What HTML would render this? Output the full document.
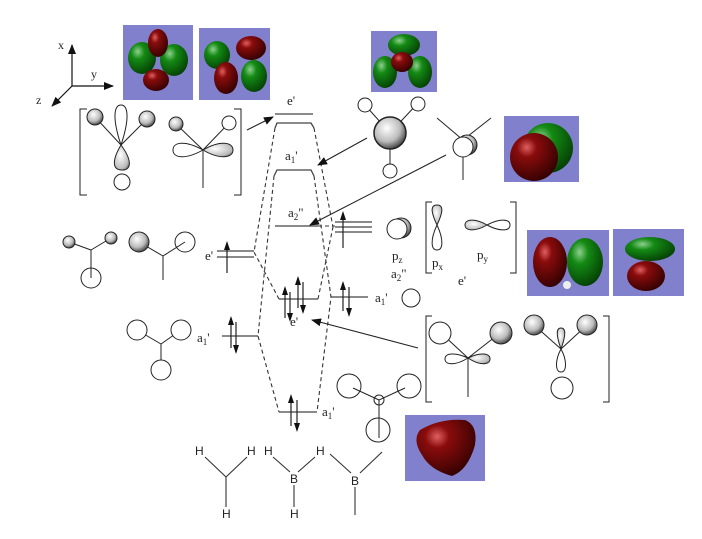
<!DOCTYPE html>
<html><head><meta charset="utf-8"><style>
html,body{margin:0;padding:0;background:#fff;}
svg{display:block;}
text{font-family:"Liberation Serif",serif;fill:#222;}
.s{font-family:"Liberation Sans",sans-serif;font-size:12px;}
</style></head><body>
<svg width="702" height="539" viewBox="0 0 702 539" xmlns="http://www.w3.org/2000/svg">
<defs>
<radialGradient id="sp" cx="0.4" cy="0.35" r="0.7"><stop offset="0" stop-color="#fff"/><stop offset="0.6" stop-color="#bbb"/><stop offset="1" stop-color="#333"/></radialGradient>
<radialGradient id="lb" cx="0.4" cy="0.4" r="0.8"><stop offset="0" stop-color="#fff"/><stop offset="0.7" stop-color="#bbb"/><stop offset="1" stop-color="#444"/></radialGradient>
<radialGradient id="red" cx="0.35" cy="0.3" r="0.8"><stop offset="0" stop-color="#e06060"/><stop offset="0.25" stop-color="#8a0c0c"/><stop offset="1" stop-color="#2a0000"/></radialGradient>
<radialGradient id="grn" cx="0.35" cy="0.3" r="0.8"><stop offset="0" stop-color="#8ed08e"/><stop offset="0.3" stop-color="#148a14"/><stop offset="1" stop-color="#033803"/></radialGradient>
<marker id="ah" markerWidth="10" markerHeight="8" refX="9" refY="4" orient="auto" markerUnits="userSpaceOnUse"><path d="M0,0 L10,4 L0,8 z" fill="#111"/></marker>
</defs>

<!-- axes -->
<g stroke="#111" stroke-width="1.2" fill="none">
<line x1="72" y1="86" x2="72" y2="45" marker-end="url(#ah)"/>
<line x1="72" y1="86" x2="113" y2="86" marker-end="url(#ah)"/>
<line x1="72" y1="86" x2="52" y2="106" marker-end="url(#ah)"/>
</g>
<text x="58" y="49" font-size="12">x</text>
<text x="91" y="78" font-size="12">y</text>
<text x="36" y="104" font-size="12">z</text>

<!-- orbital images -->
<rect x="123" y="25" width="70" height="75" fill="#8080cc"/>
<ellipse cx="142" cy="58" rx="14" ry="16" fill="url(#grn)"/><ellipse cx="174" cy="60" rx="14" ry="16" fill="url(#grn)"/>
<ellipse cx="158" cy="43" rx="10" ry="14" fill="url(#red)"/><ellipse cx="156" cy="80" rx="13" ry="11" fill="url(#red)"/>
<rect x="199" y="28" width="71" height="72" fill="#8080cc"/>
<ellipse cx="217" cy="55" rx="13" ry="14" fill="url(#grn)"/><ellipse cx="251" cy="48" rx="15" ry="12" fill="url(#red)"/>
<ellipse cx="226" cy="78" rx="12" ry="16" fill="url(#red)"/><ellipse cx="254" cy="76" rx="13" ry="16" fill="url(#grn)"/>
<rect x="371" y="31" width="66" height="61" fill="#8080cc"/>
<ellipse cx="404" cy="45" rx="16" ry="11" fill="url(#grn)"/><ellipse cx="385" cy="72" rx="12" ry="16" fill="url(#grn)"/>
<ellipse cx="420" cy="72" rx="12" ry="16" fill="url(#grn)"/><ellipse cx="402" cy="62" rx="11" ry="10" fill="url(#red)"/>
<rect x="504" y="116" width="75" height="66" fill="#8080cc"/>
<circle cx="548" cy="148" r="25" fill="url(#grn)"/><circle cx="534" cy="157" r="24" fill="url(#red)"/>
<rect x="527" y="230" width="82" height="66" fill="#8080cc"/>
<ellipse cx="550" cy="262" rx="17" ry="25" fill="url(#red)"/><ellipse cx="585" cy="262" rx="18" ry="24" fill="url(#grn)"/><circle cx="567" cy="285" r="4" fill="#eee"/>
<rect x="613" y="229" width="71" height="67" fill="#8080cc"/>
<ellipse cx="650" cy="249" rx="25" ry="12" fill="url(#grn)"/><ellipse cx="646" cy="276" rx="19" ry="15" fill="url(#red)"/>
<rect x="405" y="415" width="80" height="66" fill="#8080cc"/>
<path d="M420,430 Q440,418 465,420 Q478,425 475,445 Q468,470 452,476 Q430,470 422,455 Q412,440 420,430 z" fill="url(#red)"/>

<!-- MO levels -->
<g stroke="#444" stroke-width="1.3" fill="none">
<line x1="275" y1="114" x2="313" y2="114"/>
<path d="M275,128 L277,123 L311,123 L314,128"/>
<path d="M274,176 L277,170 L311,170 L314,176"/>
<line x1="275" y1="226" x2="318" y2="226"/>
<line x1="279" y1="299" x2="318" y2="299"/>
<line x1="279" y1="412" x2="317" y2="412"/>
<line x1="217" y1="251" x2="254" y2="251"/><line x1="217" y1="257" x2="254" y2="257"/>
<line x1="222" y1="336" x2="258" y2="336"/>
<line x1="335" y1="222" x2="372" y2="222"/><line x1="335" y1="227" x2="372" y2="227"/><line x1="335" y1="232" x2="372" y2="232"/>
<line x1="331" y1="297" x2="368" y2="297"/>
</g>
<!-- dashed -->
<g stroke="#333" stroke-width="1.1" stroke-dasharray="4,3" fill="none">
<path d="M275,128 L254,252 L279,299"/>
<path d="M274,176 L258,336 L279,412"/>
<path d="M314,128 L333,227"/>
<path d="M318,299 L333,227"/>
<path d="M314,176 L331,297 L317,412"/>
<line x1="318" y1="226" x2="335" y2="226"/>
</g>
<!-- electrons -->
<g stroke="#222" stroke-width="1.2">
<line x1="227" y1="243" x2="227" y2="273"/>
<line x1="231" y1="318" x2="231" y2="348"/><line x1="236" y1="322" x2="236" y2="352"/>
<line x1="343" y1="213" x2="343" y2="248"/>
<line x1="343" y1="283" x2="343" y2="311"/><line x1="349" y1="287" x2="349" y2="315"/>
<line x1="285" y1="288" x2="285" y2="318"/><line x1="290" y1="292" x2="290" y2="320"/>
<line x1="298" y1="278" x2="298" y2="308"/><line x1="303" y1="282" x2="303" y2="312"/>
<line x1="291" y1="396" x2="291" y2="426"/><line x1="297" y1="400" x2="297" y2="430"/>
</g>
<g fill="#111">
<path d="M227,241 l-3,9 l6,0z"/>
<path d="M231,316 l-3,9 l6,0z"/><path d="M236,354 l-3,-9 l6,0z"/>
<path d="M343,211 l-3,9 l6,0z"/>
<path d="M343,281 l-3,9 l6,0z"/><path d="M349,317 l-3,-9 l6,0z"/>
<path d="M285,286 l-3,9 l6,0z"/><path d="M290,322 l-3,-9 l6,0z"/>
<path d="M298,276 l-3,9 l6,0z"/><path d="M303,314 l-3,-9 l6,0z"/>
<path d="M291,394 l-3,9 l6,0z"/><path d="M297,432 l-3,-9 l6,0z"/>
</g>
<!-- labels -->
<g font-size="13">
<text x="287" y="105">e'</text>
<text x="285" y="160">a<tspan font-size="9" dy="3">1</tspan><tspan dy="-3">'</tspan></text>
<text x="288" y="217">a<tspan font-size="9" dy="3">2</tspan><tspan dy="-3">"</tspan></text>
<text x="290" y="326">e'</text>
<text x="322" y="416">a<tspan font-size="9" dy="3">1</tspan><tspan dy="-3">'</tspan></text>
<text x="205" y="260">e'</text>
<text x="197" y="342">a<tspan font-size="9" dy="3">1</tspan><tspan dy="-3">'</tspan></text>
<text x="375" y="302">a<tspan font-size="9" dy="3">1</tspan><tspan dy="-3">'</tspan></text>
<text x="392" y="260">p<tspan font-size="9" dy="3">z</tspan></text>
<text x="391" y="278">a<tspan font-size="9" dy="3">2</tspan><tspan dy="-3">"</tspan></text>
<text x="432" y="267">p<tspan font-size="9" dy="3">x</tspan></text>
<text x="477" y="259">p<tspan font-size="9" dy="3">y</tspan></text>
<text x="458" y="285">e'</text>
</g>
<!-- solid arrows -->
<g stroke="#222" stroke-width="1.1" fill="none">
<line x1="247" y1="130" x2="273" y2="117" marker-end="url(#ah)"/>
<line x1="367" y1="138" x2="318" y2="165" marker-end="url(#ah)"/>
<line x1="446" y1="155" x2="310" y2="225" marker-end="url(#ah)"/>
<line x1="418" y1="348" x2="312" y2="320" marker-end="url(#ah)"/>
</g>

<!-- fragments -->
<g stroke="#222" stroke-width="1" fill="none">
<!-- top-left bracket -->
<path d="M87,109 L80,109 L80,195 L87,195"/><path d="M234,109 L241,109 L241,195 L234,195"/>
<line x1="95" y1="117" x2="121" y2="145"/><line x1="147" y1="119" x2="121" y2="145"/>
<path d="M121,145 C112,118 114,105 121,105 C128,105 130,118 121,145z"/>
<path d="M121,145 C112,160 112,170 122,170 C132,170 132,160 121,145z" fill="url(#lb)"/>
<circle cx="122" cy="182" r="8"/>
<circle cx="95" cy="117" r="8" fill="url(#sp)"/><circle cx="147" cy="119" r="8" fill="url(#sp)"/>
<line x1="176" y1="124" x2="203" y2="150"/><line x1="229" y1="123" x2="203" y2="150"/>
<path d="M203,150 C185,140 173,142 173,150 C173,158 185,160 203,150z"/>
<path d="M203,150 C220,140 233,142 233,150 C233,158 220,160 203,150z" fill="url(#lb)"/>
<line x1="203" y1="150" x2="203" y2="188"/>
<circle cx="176" cy="124" r="7" fill="url(#sp)"/><circle cx="229" cy="123" r="7" fill="#fff"/>

<!-- mid-left -->
<line x1="69" y1="242" x2="91" y2="250"/><line x1="111" y1="238" x2="91" y2="250"/><line x1="91" y1="250" x2="91" y2="278"/>
<circle cx="91" cy="278" r="10"/>
<circle cx="69" cy="242" r="6" fill="url(#sp)"/><circle cx="111" cy="238" r="6" fill="url(#sp)"/>
<line x1="139" y1="242" x2="163" y2="256"/><line x1="185" y1="242" x2="163" y2="256"/><line x1="163" y1="256" x2="163" y2="280"/>
<circle cx="139" cy="242" r="10" fill="url(#sp)"/><circle cx="185" cy="242" r="10"/>

<!-- a1' H3 -->
<line x1="137" y1="330" x2="161" y2="344"/><line x1="181" y1="330" x2="161" y2="344"/><line x1="161" y1="344" x2="161" y2="360"/>
<circle cx="137" cy="330" r="10" fill="#fff"/><circle cx="181" cy="330" r="10" fill="#fff"/><circle cx="161" cy="370" r="10" fill="#fff"/>

<!-- upper right -->
<line x1="365" y1="105" x2="390" y2="133"/><line x1="417" y1="104" x2="390" y2="133"/><line x1="390" y1="133" x2="390" y2="170"/>
<circle cx="365" cy="105" r="7" fill="#fff"/><circle cx="418" cy="104" r="7" fill="#fff"/><circle cx="390" cy="171" r="7" fill="#fff"/>
<circle cx="390" cy="133" r="16" fill="url(#sp)" stroke-width="1.5"/>
<line x1="437" y1="118" x2="463" y2="140"/><line x1="491" y1="118" x2="463" y2="140"/><line x1="463" y1="155" x2="463" y2="180"/>
<circle cx="467" cy="145" r="10" fill="url(#sp)"/><circle cx="463" cy="147" r="10" fill="#fff"/>

<!-- pz, px, py -->
<circle cx="401" cy="228" r="10" fill="url(#sp)"/><circle cx="397" cy="229" r="10" fill="#fff"/>
<path d="M432,202 L426,202 L426,273 L432,273"/><path d="M510,202 L516,202 L516,273 L510,273"/>
<path d="M437,225 C430,210 431,205 437,205 C443,205 444,210 437,225z" fill="url(#lb)"/>
<path d="M437,225 C430,240 431,250 437,250 C443,250 444,240 437,225z"/>
<path d="M487,225 C475,218 465,219 465,225 C465,231 475,232 487,225z" fill="url(#lb)"/>
<path d="M487,225 C500,218 510,219 510,225 C510,231 500,232 487,225z"/>
<circle cx="411" cy="298" r="9"/>

<!-- lower right bracket -->
<path d="M432,316 L426,316 L426,402 L432,402"/><path d="M603,316 L609,316 L609,402 L603,402"/>
<line x1="441" y1="333" x2="468" y2="358"/><line x1="500" y1="333" x2="468" y2="358"/><line x1="468" y1="358" x2="468" y2="397"/>
<circle cx="440" cy="333" r="11" fill="#fff"/><circle cx="501" cy="333" r="11" fill="url(#sp)"/>
<path d="M468,358 C455,352 445,353 445,359 C445,365 455,366 468,358z"/>
<path d="M468,358 C480,352 490,353 490,359 C490,365 480,366 468,358z" fill="url(#lb)"/>
<line x1="534" y1="325" x2="561" y2="349"/><line x1="587" y1="325" x2="561" y2="349"/>
<path d="M561,349 C556,335 556,328 561,328 C566,328 566,335 561,349z" fill="url(#lb)"/>
<path d="M561,349 C555,360 555,372 561,372 C567,372 567,360 561,349z"/>
<circle cx="534" cy="325" r="10" fill="url(#sp)"/><circle cx="587" cy="325" r="10" fill="url(#sp)"/>
<circle cx="562" cy="388" r="11" fill="#fff"/>

<!-- bottom trigonal -->
<circle cx="349" cy="386" r="12"/><circle cx="409" cy="386" r="12"/><circle cx="378" cy="430" r="12"/>
<line x1="353" y1="388" x2="379" y2="400"/><line x1="405" y1="388" x2="379" y2="400"/><line x1="379" y1="400" x2="379" y2="438"/>
<circle cx="379" cy="400" r="5"/>
</g>

<!-- bottom structures -->
<g stroke="#333" stroke-width="1.1">
<line x1="205" y1="457" x2="226" y2="477"/><line x1="247" y1="457" x2="226" y2="477"/><line x1="226" y1="477" x2="226" y2="507"/>
<line x1="273" y1="457" x2="290" y2="472"/><line x1="315" y1="457" x2="298" y2="472"/><line x1="294" y1="485" x2="294" y2="507"/>
<line x1="330" y1="454" x2="351" y2="473"/><line x1="382" y1="452" x2="360" y2="473"/><line x1="355" y1="487" x2="355" y2="515"/>
</g>
<g class="s">
<text x="195" y="455" class="s">H</text><text x="247" y="455" class="s">H</text><text x="222" y="518" class="s">H</text>
<text x="264" y="455" class="s">H</text><text x="316" y="455" class="s">H</text><text x="290" y="483" class="s">B</text><text x="290" y="518" class="s">H</text>
<text x="351" y="485" class="s">B</text>
</g>
</svg>
</body></html>
